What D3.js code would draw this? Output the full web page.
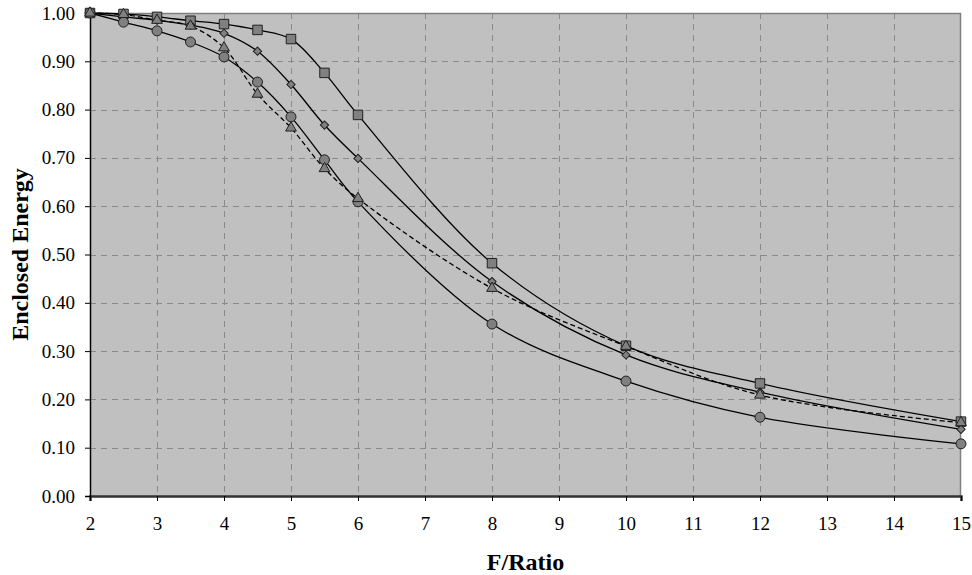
<!DOCTYPE html>
<html>
<head>
<meta charset="utf-8">
<script src="https://cdn.jsdelivr.net/npm/d3@7"></script>
<style>
  body { margin: 0; background: #fff; }
  svg { display: block; font-family: "Liberation Serif", "Times New Roman", serif; }
</style>
</head>
<body>
<svg id="chart" width="972" height="575"></svg>
<script>
const fRatio = [2, 2.5, 3, 3.5, 4, 4.5, 5, 5.5, 6, 8, 10, 12, 15];
const squareVals = [1.0, 0.998, 0.992, 0.984, 0.977, 0.965, 0.946, 0.876, 0.789, 0.482, 0.311, 0.233, 0.154];
const diamondVals = [1.0, 0.992, 0.985, 0.975, 0.958, 0.921, 0.852, 0.768, 0.699, 0.444, 0.292, 0.215, 0.138];
const triangleVals = [1.0, 0.997, 0.985, 0.973, 0.928, 0.832, 0.762, 0.678, 0.616, 0.430, 0.310, 0.209, 0.152];
const circleVals = [1.0, 0.981, 0.963, 0.940, 0.909, 0.857, 0.785, 0.696, 0.609, 0.356, 0.238, 0.163, 0.108];
const xTicks = d3.range(2, 16);
const yTicks = d3.range(0, 11).map(i => i / 10);

const series = [
  { name: "square", values: squareVals, symbol: d3.symbolSquare, size: 90, rot: 0, dash: null },
  { name: "diamond", values: diamondVals, symbol: d3.symbolSquare, size: 34, rot: 45, dash: null },
  { name: "circle", values: circleVals, symbol: d3.symbolCircle, size: 78, rot: 0, dash: null },
  { name: "triangle", values: triangleVals, symbol: d3.symbolTriangle, size: 50, rot: 0, dash: "5,3" }
];

const svg = d3.select("#chart");
const margin = { left: 90, right: 11, top: 13, bottom: 79 };
const width = 972, height = 575;

const x = d3.scaleLinear().domain([2, 15]).range([margin.left, width - margin.right]);
const y = d3.scaleLinear().domain([0, 1]).range([height - margin.bottom, margin.top]);

// plot area
svg.append("rect")
  .attr("x", x(2)).attr("y", y(1))
  .attr("width", x(15) - x(2)).attr("height", y(0) - y(1))
  .attr("fill", "#c0c0c0");

// grid
const grid = svg.append("g")
  .attr("stroke", "#8a8a8a").attr("stroke-width", 1).attr("stroke-dasharray", "6,5");
grid.selectAll("line.v")
  .data(xTicks.slice(1, -1))
  .join("line")
    .attr("class", "v")
    .attr("x1", d => Math.round(x(d)) + 0.5).attr("x2", d => Math.round(x(d)) + 0.5)
    .attr("y1", y(1)).attr("y2", y(0));
grid.selectAll("line.h")
  .data(yTicks.slice(1, -1))
  .join("line")
    .attr("class", "h")
    .attr("y1", d => Math.round(y(d)) + 0.5).attr("y2", d => Math.round(y(d)) + 0.5)
    .attr("x1", x(2)).attr("x2", x(15));

// top and right border
svg.append("path")
  .attr("d", `M${x(2)},${y(1) + 0.5}H${x(15) - 0.5}V${y(0)}`)
  .attr("fill", "none").attr("stroke", "#808080").attr("stroke-width", 1.5);

// axes
const xAxis = svg.append("g")
  .attr("transform", `translate(0,${y(0)})`)
  .call(d3.axisBottom(x).tickValues(xTicks).tickFormat(d3.format("d")).tickSize(5).tickPadding(16));
const yAxis = svg.append("g")
  .attr("transform", `translate(${x(2)},0)`)
  .call(d3.axisLeft(y).tickValues(yTicks).tickFormat(d3.format(".2f")).tickSize(5).tickPadding(10));

[xAxis, yAxis].forEach(g => {
  g.attr("font-family", null).attr("font-size", null);
  g.selectAll("text").style("font-family", "'Liberation Serif', serif").style("font-size", "19px").attr("fill", "#000");
  g.selectAll("line").attr("stroke", "#000");
});
xAxis.select(".domain").attr("stroke", "#333").attr("stroke-width", 2.5);
yAxis.select(".domain").attr("stroke", "#000").attr("stroke-width", 1.5);

// lines
const line = d3.line()
  .x((d, i) => x(fRatio[i]))
  .y(d => y(d))
  .curve(d3.curveCatmullRom.alpha(0.5));

svg.append("g")
  .selectAll("path")
  .data(series)
  .join("path")
    .attr("d", d => line(d.values))
    .attr("fill", "none")
    .attr("stroke", "#000")
    .attr("stroke-width", 1.3)
    .attr("stroke-dasharray", d => d.dash);

// markers
series.forEach(s => {
  svg.append("g")
    .selectAll("path")
    .data(s.values)
    .join("path")
      .attr("transform", (d, i) => `translate(${x(fRatio[i])},${y(d)}) rotate(${s.rot})`)
      .attr("d", d3.symbol(s.symbol, s.size))
      .attr("fill", "#808080")
      .attr("stroke", "#202020")
      .attr("stroke-width", 1);
});

// axis titles
svg.append("text")
  .attr("x", (x(2) + x(15)) / 2).attr("y", 570)
  .attr("text-anchor", "middle")
  .attr("font-size", 24).attr("font-weight", "bold")
  .text("F/Ratio");

svg.append("text")
  .attr("transform", `translate(28,${(y(0) + y(1)) / 2}) rotate(-90)`)
  .attr("text-anchor", "middle")
  .attr("font-size", 24).attr("font-weight", "bold")
  .text("Enclosed Energy");
</script>
</body>
</html>
